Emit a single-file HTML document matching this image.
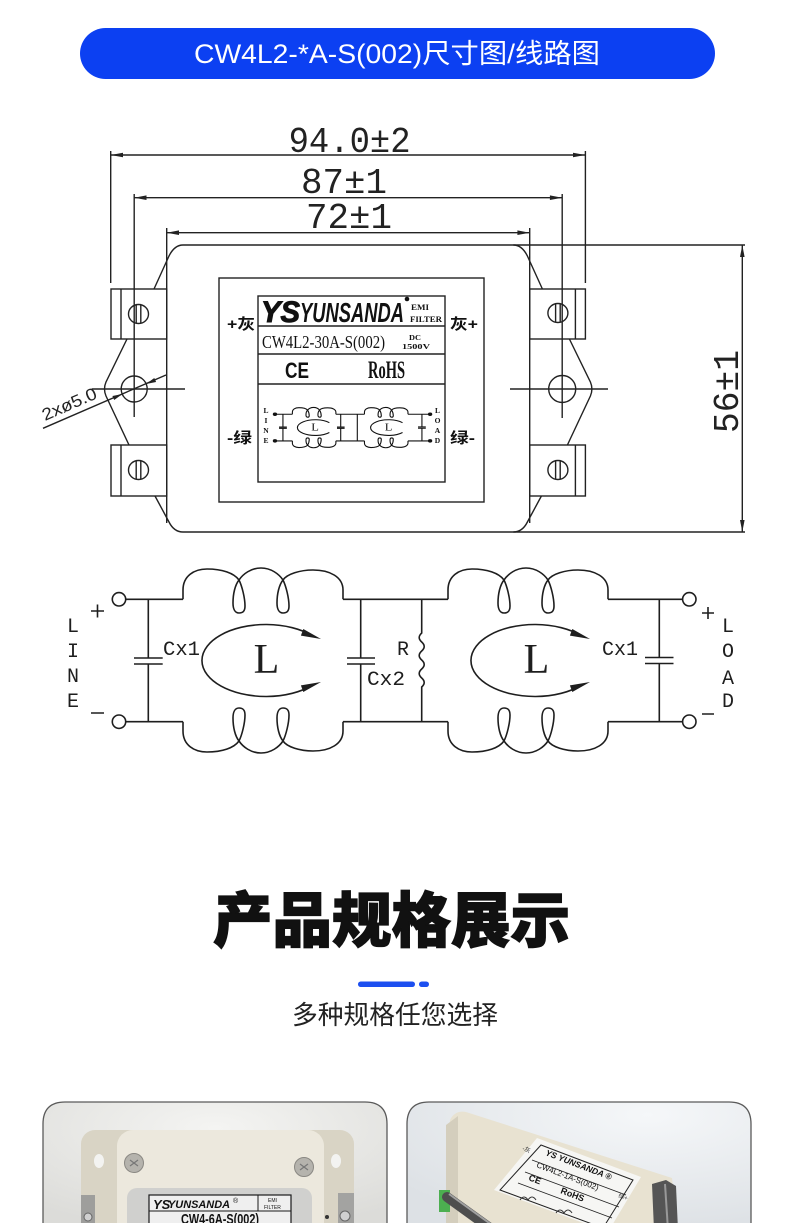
<!DOCTYPE html>
<html><head><meta charset="utf-8">
<style>
html,body{margin:0;padding:0;background:#fff;}
svg{display:block}
.ln{stroke:#222;stroke-width:1.4;fill:none}
.cl{stroke:#1e1e1e;stroke-width:1.6;fill:none}
.mini *{vector-effect:non-scaling-stroke}
</style></head><body>
<svg width="790" height="1223" viewBox="0 0 790 1223" xmlns="http://www.w3.org/2000/svg">
<defs>
  <clipPath id="cl1"><path d="M43,1223 L43,1124 Q43,1102 65,1102 L365,1102 Q387,1102 387,1124 L387,1223 Z"/></clipPath>
  <clipPath id="cl2"><path d="M407,1223 L407,1124 Q407,1102 429,1102 L729,1102 Q751,1102 751,1124 L751,1223 Z"/></clipPath>
  <radialGradient id="g1" cx="0.5" cy="0.2" r="0.8"><stop offset="0" stop-color="#f4f4f2"/><stop offset="1" stop-color="#dcdcd9"/></radialGradient>
  <radialGradient id="g2" cx="0.7" cy="0.1" r="0.9"><stop offset="0" stop-color="#f5f7f9"/><stop offset="1" stop-color="#dde1e5"/></radialGradient>
</defs>

<!-- Banner -->
<rect x="80" y="28" width="635" height="51" rx="25.5" fill="#0c40f2"/>
<text x="397" y="63" font-family="'Liberation Sans','Noto Sans CJK SC',sans-serif" font-size="27" fill="#fff" text-anchor="middle" textLength="406" lengthAdjust="spacingAndGlyphs">CW4L2-*A-S(002)尺寸图/线路图</text>

<!-- Dimension texts -->
<g font-family="'Liberation Mono',monospace" font-size="36" fill="#222">
  <text x="288.6" y="152" textLength="122" lengthAdjust="spacingAndGlyphs">94.0±2</text>
  <text x="301" y="193" textLength="86" lengthAdjust="spacingAndGlyphs">87±1</text>
  <text x="306" y="228" textLength="86" lengthAdjust="spacingAndGlyphs">72±1</text>
  <text transform="translate(738,433) rotate(-90)" textLength="83" lengthAdjust="spacingAndGlyphs">56±1</text>
</g>

<!-- Dimension lines -->
<g class="ln">
  <path d="M110.7,155 H585.4 M134.2,197.7 H562.2 M166.7,232.7 H529.7"/>
  <path d="M110.7,151 V283 M585.4,151 V283 M134.2,194 V417 M562.2,194 V418 M166.7,228 V523 M529.7,228 V523"/>
  <path d="M742.3,245 V532"/>
</g>
<g fill="#222">
  <polygon points="110.7,155 123,152.7 123,157.3"/>
  <polygon points="585.4,155 573,152.7 573,157.3"/>
  <polygon points="134.2,197.7 146.5,195.4 146.5,200"/>
  <polygon points="562.2,197.7 549.9,195.4 549.9,200"/>
  <polygon points="166.7,232.7 179,230.4 179,235"/>
  <polygon points="529.7,232.7 517.4,230.4 517.4,235"/>
  <polygon points="742.3,245 740,257 744.6,257"/>
  <polygon points="742.3,532 740,520 744.6,520"/>
</g>

<!-- Body outline -->
<g class="ln">
  <path d="M183,245 H745 M183,532 H745"/>
  <path d="M183,245 C176,245 172,250 169,256 L154,289"/>
  <path d="M513.4,245 C520.4,245 524.4,250 527.4,256 L542.4,289"/>
  <path d="M155,496 L169,522 C172,528 176,532 183,532"/>
  <path d="M541.4,496 L527.4,522 C524.4,528 520.4,532 513.4,532"/>
  <rect x="111" y="289" width="55.7" height="50"/>
  <rect x="111" y="445" width="55.7" height="51"/>
  <rect x="529.7" y="289" width="55.7" height="50"/>
  <rect x="529.7" y="445" width="55.7" height="51"/>
  <path d="M121,289 V339 M121,445 V496 M575.4,289 V339 M575.4,445 V496"/>
  <path d="M127,339 L106,382 Q103,389 106,396 L129,445"/>
  <path d="M569.4,339 L590.4,382 Q593.4,389 590.4,396 L567.4,445"/>
  <ellipse cx="138.5" cy="314" rx="10" ry="9.5"/>
  <ellipse cx="138.5" cy="470" rx="10" ry="9.5"/>
  <ellipse cx="557.9" cy="313" rx="10" ry="9.5"/>
  <ellipse cx="557.9" cy="470" rx="10" ry="9.5"/>
  <path d="M136.2,305 V323 M140.8,305 V323 M136.2,461 V479 M140.8,461 V479 M555.6,304 V322 M560.2,304 V322 M555.6,461 V479 M560.2,461 V479"/>
  <circle cx="134.2" cy="389" r="13"/>
  <circle cx="562.2" cy="389" r="13.5"/>
  <path d="M91.7,389 H185 M510,389 H608"/>
  <path d="M43,428.3 L166,375"/>
  <!-- label frame -->
  <rect x="219" y="278" width="265" height="224"/>
  <rect x="258" y="296" width="187" height="186"/>
  <path d="M258,326 H445 M258,354 H445 M258,384 H445"/>
</g>
<g fill="#222">
  <polygon points="122.5,394 113.3,398 114.2,400 "/>
  <polygon points="122.5,394 112.4,396 113.3,398"/>
  <polygon points="146,384 155.2,380 156.1,382"/>
  <polygon points="146,384 154.3,378 155.2,380"/>
</g>
<text transform="translate(45,421) rotate(-23.5)" font-family="'Liberation Sans',sans-serif" font-size="17" fill="#222" textLength="58" lengthAdjust="spacingAndGlyphs">2xø5.0</text>

<!-- Label content -->
<g fill="#111">
  <text x="261" y="322" font-family="'Liberation Sans',sans-serif" font-weight="bold" font-style="italic" font-size="30" stroke="#111" stroke-width="1" textLength="39" lengthAdjust="spacingAndGlyphs">YS</text>
  <text x="300" y="322" font-family="'Liberation Sans',sans-serif" font-weight="bold" font-style="italic" font-size="28" textLength="104" lengthAdjust="spacingAndGlyphs">YUNSANDA</text>
  <circle cx="407" cy="299" r="2.3"/>
  <text x="411" y="310" font-family="'Liberation Serif',serif" font-weight="bold" font-size="8" textLength="18" lengthAdjust="spacingAndGlyphs">EMI</text>
  <text x="410" y="322" font-family="'Liberation Serif',serif" font-weight="bold" font-size="8" textLength="32" lengthAdjust="spacingAndGlyphs">FILTER</text>
  <text x="262" y="348" font-family="'Liberation Serif',serif" font-size="18" textLength="123" lengthAdjust="spacingAndGlyphs">CW4L2-30A-S(002)</text>
  <text x="409" y="340" font-family="'Liberation Serif',serif" font-weight="bold" font-size="7.5" textLength="12" lengthAdjust="spacingAndGlyphs">DC</text>
  <text x="402" y="349" font-family="'Liberation Serif',serif" font-weight="bold" font-size="7.5" textLength="28" lengthAdjust="spacingAndGlyphs">1500V</text>
  <text x="285" y="378" font-family="'Liberation Sans',sans-serif" font-weight="bold" font-size="22" textLength="24" lengthAdjust="spacingAndGlyphs">CE</text>
  <text x="368" y="378" font-family="'Liberation Serif',serif" font-weight="bold" font-size="25" textLength="37" lengthAdjust="spacingAndGlyphs">RoHS</text>
  <g font-family="'Liberation Sans','Noto Sans CJK SC',sans-serif" font-weight="bold" font-size="15">
    <text x="227" y="329" textLength="28" lengthAdjust="spacingAndGlyphs">+灰</text>
    <text x="450" y="329" textLength="28" lengthAdjust="spacingAndGlyphs">灰+</text>
    <text x="227" y="443" textLength="25" lengthAdjust="spacingAndGlyphs">-绿</text>
    <text x="450" y="443" textLength="25" lengthAdjust="spacingAndGlyphs">绿-</text>
  </g>
  <g font-family="'Liberation Serif',serif" font-weight="bold" font-size="7.5" text-anchor="middle">
    <text x="266" y="413">L</text><text x="266" y="423">I</text><text x="266" y="433">N</text><text x="266" y="443">E</text>
    <text x="437.5" y="413">L</text><text x="437.5" y="423">O</text><text x="437.5" y="433">A</text><text x="437.5" y="443">D</text>
  </g>
</g>

<!-- Mini circuit in label -->
<g class="mini" transform="matrix(0.272,0,0,0.218,242.6,283.6)">
  <g stroke="#111" stroke-width="1.1" fill="none">
    <path d="M126,599.3 H183 M343,599.3 H448 M608,599.3 H682.6 M126,721.7 H183 M343,721.7 H448 M608,721.7 H682.6"/>
    <path d="M148.3,599.3 V658 M134,658 H162.7 M134,664 H162.7 M148.3,664 V721.7"/>
    <path d="M360.7,599.3 V658 M347,658 H375 M347,664 H375 M360.7,664 V721.7"/>
    <path d="M659.3,599.3 V657.5 M645,657.5 H673.5 M645,663.5 H673.5 M659.3,663.5 V721.7"/>
    <path d="M421.7,599.3 V633 V687 V721.7"/>
    <path d="M183,599.3 L183,590 C183,576 194,569 207,569 C222,569 234,573 239,580 C242,586 245,598 245,606 C245,611 243,613 239,613 C235,613 233,609 233,603 C233,594 235,585 239,580 C243,574 251,568 261,568 C271,568 279,574 283,580 C286,586 289,598 289,606 C289,611 287,613 283,613 C279,613 277,609 277,603 C277,594 279,585 283,580 C287,574 300,570 313,570 C330,570 343,577 343,590 L343,599.3"/>
    <path transform="translate(265,0)" d="M183,599.3 L183,590 C183,576 194,569 207,569 C222,569 234,573 239,580 C242,586 245,598 245,606 C245,611 243,613 239,613 C235,613 233,609 233,603 C233,594 235,585 239,580 C243,574 251,568 261,568 C271,568 279,574 283,580 C286,586 289,598 289,606 C289,611 287,613 283,613 C279,613 277,609 277,603 C277,594 279,585 283,580 C287,574 300,570 313,570 C330,570 343,577 343,590 L343,599.3"/>
    <path transform="matrix(1,0,0,-1,0,1321)" d="M183,599.3 L183,590 C183,576 194,569 207,569 C222,569 234,573 239,580 C242,586 245,598 245,606 C245,611 243,613 239,613 C235,613 233,609 233,603 C233,594 235,585 239,580 C243,574 251,568 261,568 C271,568 279,574 283,580 C286,586 289,598 289,606 C289,611 287,613 283,613 C279,613 277,609 277,603 C277,594 279,585 283,580 C287,574 300,570 313,570 C330,570 343,577 343,590 L343,599.3"/>
    <path transform="matrix(1,0,0,-1,265,1321)" d="M183,599.3 L183,590 C183,576 194,569 207,569 C222,569 234,573 239,580 C242,586 245,598 245,606 C245,611 243,613 239,613 C235,613 233,609 233,603 C233,594 235,585 239,580 C243,574 251,568 261,568 C271,568 279,574 283,580 C286,586 289,598 289,606 C289,611 287,613 283,613 C279,613 277,609 277,603 C277,594 279,585 283,580 C287,574 300,570 313,570 C330,570 343,577 343,590 L343,599.3"/>
    <path d="M319,638 A66,36 0 1,0 319,683 M588,638 A66,36 0 1,0 588,683"/>
  </g>
  <g fill="#111">
    <circle cx="119" cy="599.3" r="8"/><circle cx="119" cy="721.7" r="8"/>
    <circle cx="689.3" cy="599.3" r="8"/><circle cx="689.3" cy="721.7" r="8"/>
    <text x="266.5" y="673" font-family="'Liberation Serif',serif" font-size="46" text-anchor="middle">L</text>
    <text x="536.5" y="673" font-family="'Liberation Serif',serif" font-size="46" text-anchor="middle">L</text>
  </g>
</g>

<!-- Main circuit -->
<g class="cl">
  <path d="M126,599.3 H183 M343,599.3 H448 M608,599.3 H682.6 M126,721.7 H183 M343,721.7 H448 M608,721.7 H682.6"/>
  <path d="M148.3,599.3 V658 M134,658 H162.7 M134,664 H162.7 M148.3,664 V721.7"/>
  <path d="M360.7,599.3 V658 M347,658 H375 M347,664 H375 M360.7,664 V721.7"/>
  <path d="M659.3,599.3 V657.5 M645,657.5 H673.5 M645,663.5 H673.5 M659.3,663.5 V721.7"/>
  <path d="M421.7,599.3 V633 q-5,4.5 0,9 q5,4.5 0,9 q-5,4.5 0,9 q5,4.5 0,9 q-5,4.5 0,9 q5,4.5 0,9 V721.7"/>
  <circle cx="119" cy="599.3" r="6.7"/><circle cx="119" cy="721.7" r="6.7"/>
  <circle cx="689.3" cy="599.3" r="6.7"/><circle cx="689.3" cy="721.7" r="6.7"/>
  <path d="M183,599.3 L183,590 C183,576 194,569 207,569 C222,569 234,573 239,580 C242,586 245,598 245,606 C245,611 243,613 239,613 C235,613 233,609 233,603 C233,594 235,585 239,580 C243,574 251,568 261,568 C271,568 279,574 283,580 C286,586 289,598 289,606 C289,611 287,613 283,613 C279,613 277,609 277,603 C277,594 279,585 283,580 C287,574 300,570 313,570 C330,570 343,577 343,590 L343,599.3"/>
  <path transform="translate(265,0)" d="M183,599.3 L183,590 C183,576 194,569 207,569 C222,569 234,573 239,580 C242,586 245,598 245,606 C245,611 243,613 239,613 C235,613 233,609 233,603 C233,594 235,585 239,580 C243,574 251,568 261,568 C271,568 279,574 283,580 C286,586 289,598 289,606 C289,611 287,613 283,613 C279,613 277,609 277,603 C277,594 279,585 283,580 C287,574 300,570 313,570 C330,570 343,577 343,590 L343,599.3"/>
  <path transform="matrix(1,0,0,-1,0,1321)" d="M183,599.3 L183,590 C183,576 194,569 207,569 C222,569 234,573 239,580 C242,586 245,598 245,606 C245,611 243,613 239,613 C235,613 233,609 233,603 C233,594 235,585 239,580 C243,574 251,568 261,568 C271,568 279,574 283,580 C286,586 289,598 289,606 C289,611 287,613 283,613 C279,613 277,609 277,603 C277,594 279,585 283,580 C287,574 300,570 313,570 C330,570 343,577 343,590 L343,599.3"/>
  <path transform="matrix(1,0,0,-1,265,1321)" d="M183,599.3 L183,590 C183,576 194,569 207,569 C222,569 234,573 239,580 C242,586 245,598 245,606 C245,611 243,613 239,613 C235,613 233,609 233,603 C233,594 235,585 239,580 C243,574 251,568 261,568 C271,568 279,574 283,580 C286,586 289,598 289,606 C289,611 287,613 283,613 C279,613 277,609 277,603 C277,594 279,585 283,580 C287,574 300,570 313,570 C330,570 343,577 343,590 L343,599.3"/>
  <path d="M312,635.5 A64,36 0 1,0 312,685.5 M581,635.5 A64,36 0 1,0 581,685.5"/>
  <path d="M91,611 H104 M97.5,604.5 V617.5 M91,713 H104 M702,613 H714 M708,607 V619 M702,714 H714"/>
</g>
<g fill="#1e1e1e">
  <polygon points="321,639 300.9,635.6 303.3,629"/>
  <polygon points="321,682 300.9,685.4 303.3,692"/>
  <polygon points="590,639 569.9,635.6 572.3,629"/>
  <polygon points="590,682 569.9,685.4 572.3,692"/>
  <text x="266.5" y="673" font-family="'Liberation Serif',serif" font-size="42" text-anchor="middle">L</text>
  <text x="536.5" y="673" font-family="'Liberation Serif',serif" font-size="42" text-anchor="middle">L</text>
  <g font-family="'Liberation Mono',monospace" font-size="20">
    <text x="163" y="655" textLength="37" lengthAdjust="spacingAndGlyphs">Cx1</text>
    <text x="367" y="685" textLength="38" lengthAdjust="spacingAndGlyphs">Cx2</text>
    <text x="397" y="655">R</text>
    <text x="602" y="655" textLength="36" lengthAdjust="spacingAndGlyphs">Cx1</text>
    <g text-anchor="middle">
      <text x="73" y="632">L</text><text x="73" y="657">I</text><text x="73" y="682">N</text><text x="73" y="707">E</text>
      <text x="728" y="632">L</text><text x="728" y="657">O</text><text x="728" y="684">A</text><text x="728" y="707">D</text>
    </g>
  </g>
</g>

<!-- Section title -->
<text x="391.5" y="942" font-family="'Liberation Sans','Noto Sans CJK SC',sans-serif" font-weight="900" font-size="60" fill="#111" stroke="#111" stroke-width="1.3" text-anchor="middle" textLength="357" lengthAdjust="spacingAndGlyphs">产品规格展示</text>
<rect x="358" y="981.5" width="57" height="5.5" rx="2.75" fill="#1c4ff0"/>
<rect x="419" y="981.5" width="10" height="5.5" rx="2.75" fill="#1c4ff0"/>
<text x="395" y="1024" font-family="'Liberation Sans','Noto Sans CJK SC',sans-serif" font-size="26" fill="#222" text-anchor="middle" textLength="206" lengthAdjust="spacingAndGlyphs">多种规格任您选择</text>

<!-- Left photo card -->
<g clip-path="url(#cl1)">
  <rect x="43" y="1102" width="344" height="130" fill="url(#g1)"/>
  <rect x="81" y="1130" width="273" height="110" rx="14" fill="#d9d4c5"/>
  <ellipse cx="99" cy="1161" rx="5" ry="7" fill="#f3f3f1"/>
  <ellipse cx="336" cy="1161" rx="5" ry="7" fill="#f3f3f1"/>
  <rect x="117" y="1130" width="207" height="110" rx="16" fill="#ece8dd"/>
  <circle cx="134" cy="1163" r="9.5" fill="#b5b3ad" stroke="#8a8883"/>
  <circle cx="304" cy="1167" r="9.5" fill="#b5b3ad" stroke="#8a8883"/>
  <path d="M130,1160 l8,6 M130,1166 l8,-6 M300,1164 l8,6 M300,1170 l8,-6" stroke="#777" stroke-width="1.2"/>
  <rect x="81" y="1195" width="14" height="32" fill="#9e9e9c"/>
  <circle cx="88" cy="1217" r="4" fill="#d0d0d0" stroke="#666"/>
  <rect x="338" y="1193" width="16" height="34" fill="#a3a3a1"/>
  <circle cx="345" cy="1216" r="5" fill="#d0d0d0" stroke="#666"/>
  <circle cx="327" cy="1217" r="2" fill="#333"/>
  <rect x="127" y="1188" width="185" height="50" rx="10" fill="#d0d0ce"/>
  <rect x="149" y="1195" width="142" height="40" fill="#efefef" stroke="#1a1a1a" stroke-width="1.2"/>
  <path d="M149,1211 H291 M258,1195 V1211" stroke="#1a1a1a" stroke-width="1"/>
  <text x="153" y="1209" font-family="'Liberation Sans',sans-serif" font-weight="bold" font-style="italic" font-size="13" fill="#111">YS</text>
  <text x="168" y="1208" font-family="'Liberation Sans',sans-serif" font-weight="bold" font-style="italic" font-size="11" fill="#111" textLength="62" lengthAdjust="spacingAndGlyphs">YUNSANDA</text>
  <text x="233" y="1203" font-family="'Liberation Sans',sans-serif" font-size="7" fill="#111">®</text>
  <text x="268" y="1202" font-family="'Liberation Sans',sans-serif" font-size="5" fill="#111">EMI</text>
  <text x="264" y="1209" font-family="'Liberation Sans',sans-serif" font-size="5" fill="#111">FILTER</text>
  <text x="181" y="1224" font-family="'Liberation Sans',sans-serif" font-weight="bold" font-size="15" fill="#111" textLength="78" lengthAdjust="spacingAndGlyphs">CW4-6A-S(002)</text>
</g>
<path d="M43,1223 L43,1124 Q43,1102 65,1102 L365,1102 Q387,1102 387,1124 L387,1223" fill="none" stroke="#5a5a5a" stroke-width="1.3"/>

<!-- Right photo card -->
<g clip-path="url(#cl2)">
  <rect x="407" y="1102" width="344" height="130" fill="url(#g2)"/>
  <path d="M450,1120 Q455,1110 466,1112 L672,1178 L678,1230 L446,1230 Z" fill="#e8e2d1"/>
  <path d="M446,1125 L458,1116 L458,1230 L446,1230 Z" fill="#d4cebd"/>
  <rect x="439" y="1190" width="11" height="22" fill="#4caf50"/>
  <path d="M447,1197 L490,1228" stroke="#4e4e4e" stroke-width="10" stroke-linecap="round"/>
  <path d="M449,1194 L492,1225" stroke="#a0a0a0" stroke-width="2"/>
  <path d="M652,1184 L666,1180 L676,1186 L678,1230 L654,1230 Z" fill="#555"/>
  <path d="M665,1184 L668,1230" stroke="#999" stroke-width="2"/>
  <polygon points="537,1138 641,1177 608,1232 494,1190" fill="#f6f6f4"/>
  <polygon points="541,1145 633,1180 603,1228 500,1190" fill="none" stroke="#222" stroke-width="1"/>
  <path d="M532,1160 L626,1195 M525,1172 L619,1207 M518,1183 L612,1218" stroke="#222" stroke-width="0.9"/>
  <text transform="translate(545,1155) rotate(21)" font-family="'Liberation Sans',sans-serif" font-weight="bold" font-style="italic" font-size="8.5" fill="#111">YS YUNSANDA ®</text>
  <text transform="translate(536,1167) rotate(21)" font-family="'Liberation Sans',sans-serif" font-size="8" fill="#111">CW4L2-1A-S(002)</text>
  <text transform="translate(528,1180) rotate(21)" font-family="'Liberation Sans',sans-serif" font-weight="bold" font-size="9" fill="#111">CE</text>
  <text transform="translate(560,1193) rotate(21)" font-family="'Liberation Sans',sans-serif" font-weight="bold" font-size="9" fill="#111">RoHS</text>
  <text transform="translate(522,1150) rotate(21)" font-family="'Liberation Sans','Noto Sans CJK SC',sans-serif" font-size="6" fill="#333">-灰</text>
  <text transform="translate(618,1197) rotate(21)" font-family="'Liberation Sans','Noto Sans CJK SC',sans-serif" font-size="6" fill="#333">绿+</text>
  <path d="M520,1200 q4,-6 8,0 q4,-6 8,0 M556,1213 q4,-6 8,0 q4,-6 8,0" stroke="#333" stroke-width="1" fill="none"/>
</g>
<path d="M407,1223 L407,1124 Q407,1102 429,1102 L729,1102 Q751,1102 751,1124 L751,1223" fill="none" stroke="#5a5a5a" stroke-width="1.3"/>
</svg>
</body></html>
